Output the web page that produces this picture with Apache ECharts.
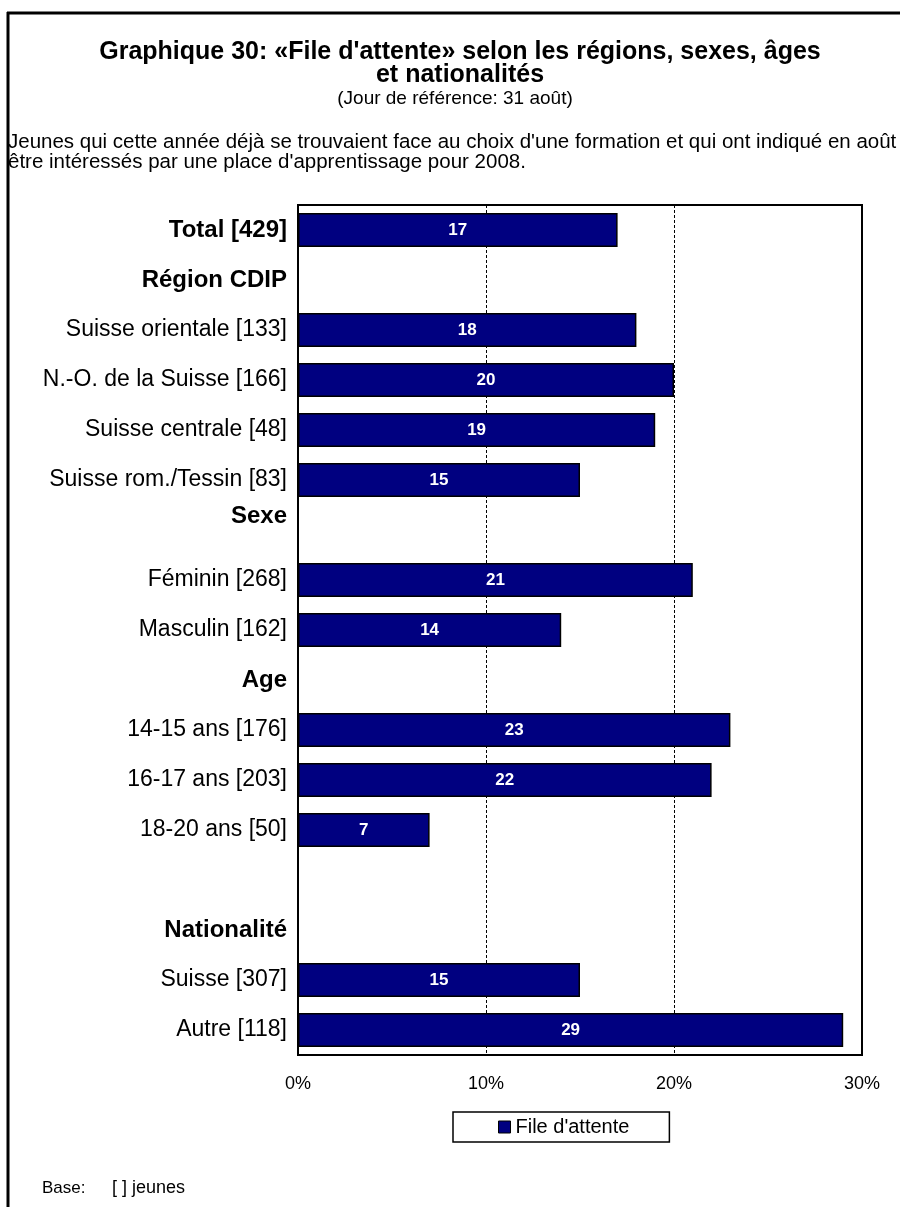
<!DOCTYPE html>
<html>
<head>
<meta charset="utf-8">
<script src="https://cdn.jsdelivr.net/npm/echarts@6/dist/echarts.min.js"></script>
<style>
html,body{margin:0;padding:0;background:#fff;}
#chart{width:900px;height:1207px;}
</style>
</head>
<body>
<div id="chart"></div>
<script>
const categories = ['Total [429]', 'Région CDIP', 'Suisse orientale [133]', 'N.-O. de la Suisse [166]',
  'Suisse centrale [48]', 'Suisse rom./Tessin [83]', 'Sexe', 'Féminin [268]', 'Masculin [162]',
  'Age', '14-15 ans [176]', '16-17 ans [203]', '18-20 ans [50]', '', 'Nationalité',
  'Suisse [307]', 'Autre [118]'];
const boldLabels = ['Total [429]', 'Région CDIP', 'Sexe', 'Age', 'Nationalité'];
const fileAttente = [17, null, 18, 20, 19, 15, null, 21, 14, null, 23, 22, 7, null, null, 15, 29];
const xTicks = [0, 10, 20, 30];
const seriesName = "File d'attente";

const FONT = 'Liberation Sans, Arial, Helvetica, sans-serif';
const chart = echarts.init(document.getElementById('chart'));
chart.setOption({
  animation: false,
  backgroundColor: '#fff',
  textStyle: { fontFamily: FONT, color: '#000' },
  title: [
    { text: "Graphique 30: «File d'attente» selon les régions, sexes, âges\net nationalités",
      left: 460, top: 41, textAlign: 'center', padding: 0,
      textStyle: { fontSize: 25, fontWeight: 'bold', color: '#000', lineHeight: 23, fontFamily: FONT } },
    { text: '(Jour de référence: 31 août)', left: 455, top: 88, textAlign: 'center', padding: 0,
      textStyle: { fontSize: 19, fontWeight: 'normal', color: '#000', lineHeight: 22, fontFamily: FONT } },
    { text: "Jeunes qui cette année déjà se trouvaient face au choix d'une formation et qui ont indiqué en août\nêtre intéressés par une place d'apprentissage pour 2008.",
      left: 8, top: 132, padding: 0,
      textStyle: { fontSize: 20.5, fontWeight: 'normal', color: '#000', lineHeight: 20, fontFamily: FONT } },
    { text: 'Base:', left: 42, top: 1178, padding: 0,
      textStyle: { fontSize: 17, fontWeight: 'normal', color: '#000', lineHeight: 20, fontFamily: FONT } },
    { text: '[ ] jeunes', left: 112, top: 1178, padding: 0,
      textStyle: { fontSize: 18, fontWeight: 'normal', color: '#000', lineHeight: 20, fontFamily: FONT } }
  ],
  graphic: [
    { type: 'line', shape: { x1: 8, y1: 12, x2: 8, y2: 1207 }, style: { stroke: '#000', lineWidth: 3 } },
    { type: 'line', shape: { x1: 7, y1: 13, x2: 900, y2: 13 }, style: { stroke: '#000', lineWidth: 3 } }
  ],
  legend: {
    data: [seriesName],
    left: 453, top: 1112,
    padding: [5, 40, 5, 45],
    itemWidth: 12, itemHeight: 12, itemGap: 5,
    icon: 'rect',
    borderColor: '#000', borderWidth: 1.5,
    textStyle: { fontSize: 20, color: '#000', fontFamily: FONT, lineHeight: 20, padding: [0,0,0,0] },
    itemStyle: { borderColor: '#000', borderWidth: 1 }
  },
  grid: { left: 298, right: 38, top: 205, bottom: 152, show: true, borderColor: '#000', borderWidth: 2, backgroundColor: 'transparent' },
  xAxis: {
    type: 'value', min: 0, max: 30, interval: 10,
    axisLine: { show: false }, axisTick: { show: false },
    axisLabel: { formatter: '{value}%', fontSize: 18, color: '#000', margin: 20, fontFamily: FONT,
      customValues: xTicks },
    splitLine: { show: true, lineStyle: { color: '#000', type: [3, 2], width: 1 } }
  },
  yAxis: {
    type: 'category', data: categories, inverse: true,
    axisLine: { show: true, lineStyle: { color: '#000', width: 2 } },
    axisTick: { show: false },
    axisLabel: {
      interval: 0, margin: 11, fontSize: 23, color: '#000', fontFamily: FONT,
      formatter: function (v) {
        if (v === 'Sexe') return '{hs|' + v + '}';
        if (boldLabels.indexOf(v) >= 0) return '{h|' + v + '}';
        return v;
      },
      rich: {
        h: { fontWeight: 'bold', fontSize: 24, fontFamily: FONT, color: '#000' },
        hs: { fontWeight: 'bold', fontSize: 24, fontFamily: FONT, color: '#000', padding: [0, 0, 28, 0] }
      }
    }
  },
  series: [{
    name: seriesName, type: 'bar', data: fileAttente,
    barCategoryGap: '32%',
    itemStyle: { color: '#000080', borderColor: '#000', borderWidth: 1.5 },
    label: { show: true, position: 'inside', color: '#fff', fontWeight: 'bold', fontSize: 17, fontFamily: FONT }
  }]
});
</script>
</body>
</html>
